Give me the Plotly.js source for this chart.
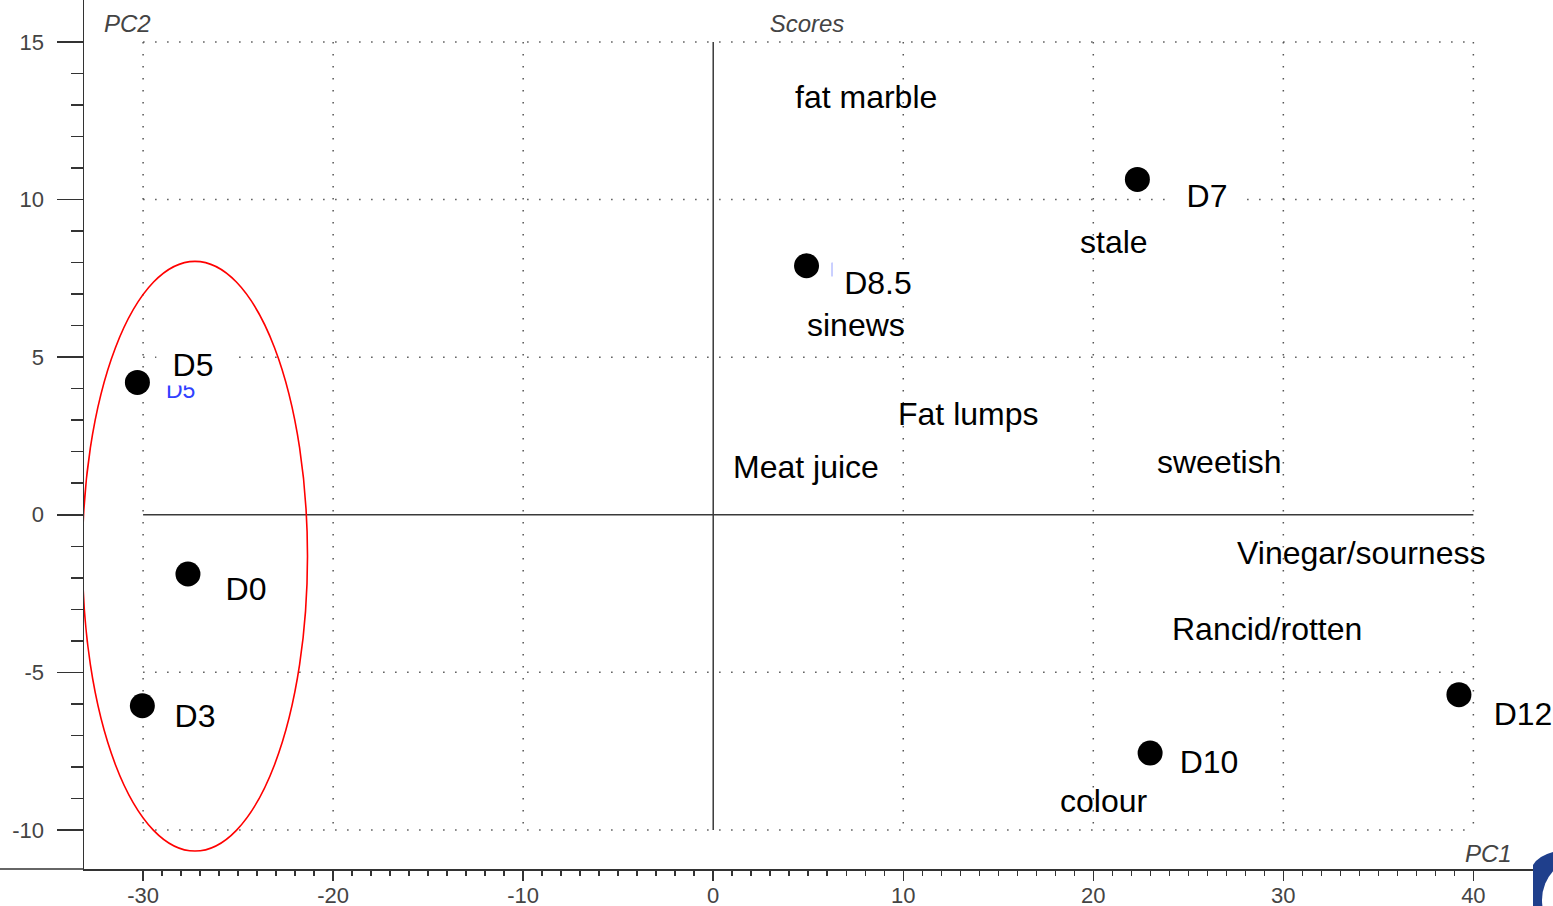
<!DOCTYPE html>
<html>
<head>
<meta charset="utf-8">
<script src="https://cdn.plot.ly/plotly-3.0.1.min.js"></script>
<style>html,body{margin:0;padding:0;background:#fff;}#chart{width:1553px;height:906px;}</style>
</head>
<body>
<div id="chart"></div>
<script>
// Score points (PC1, PC2)
var sampleNames = ['D5', 'D0', 'D3', 'D8.5', 'D7', 'D10', 'D12'];
var pc1Scores   = [-30.30, -27.64, -30.04, 4.91, 22.32, 22.99, 39.24];
var pc2Scores   = [4.20, -1.88, -6.06, 7.90, 10.64, -7.56, -5.71];

// Attribute labels placed on the score plot
var attrNames = ['fat marble', 'stale', 'sinews', 'Fat lumps', 'Meat juice', 'sweetish', 'Vinegar/sourness', 'Rancid/rotten', 'colour'];
var attrPC1   = [8.05, 21.10, 7.52, 13.41, 4.89, 26.62, 34.09, 29.14, 20.57];
var attrPC2   = [13.27, 8.67, 6.03, 3.21, 1.52, 1.68, -1.21, -3.62, -9.08];

// Tick labels
var xTickVals = [-30, -20, -10, 0, 10, 20, 30, 40];
var yTickVals = [-10, -5, 0, 5, 10, 15];

// Ellipse around the early group (PC1/PC2 extents)
var groupEllipse = {x0: -33.19, x1: -21.35, y0: -10.67, y1: 8.04};

// ---- styling / layout ----
var FONT = 'Liberation Sans, Arial, sans-serif';
var labelShift = [[56, 17], [58, -15], [53, -10], [71, -17], [70, -17], [59, -9], [64, -19]];
var labelWidth = [68, 68, 68, 86, 74, 82, 82];

var xmin = xTickVals[0], xmax = xTickVals[xTickVals.length - 1];
var ymin = yTickVals[0], ymax = yTickVals[yTickVals.length - 1];

var shapes = [];
xTickVals.forEach(function (v) {
  if (v === 0) return;
  shapes.push({type: 'line', xref: 'x', yref: 'y', x0: v, x1: v, y0: ymax, y1: ymin, layer: 'below',
    line: {color: '#555', width: 1.5, dash: '1.5px,10.5px'}});
});
yTickVals.forEach(function (v) {
  if (v === 0) return;
  shapes.push({type: 'line', xref: 'x', yref: 'y', x0: xmin, x1: xmax, y0: v, y1: v, layer: 'below',
    line: {color: '#555', width: 1.5, dash: '1.5px,10.5px'}});
});
// zero lines
shapes.push({type: 'line', xref: 'x', yref: 'y', x0: xmin, x1: xmax, y0: 0, y1: 0, layer: 'below', line: {color: '#3a3a3a', width: 1.5}});
shapes.push({type: 'line', xref: 'x', yref: 'y', x0: 0, x1: 0, y0: ymin, y1: ymax, layer: 'below', line: {color: '#3a3a3a', width: 1.5}});
// ellipse
shapes.push({type: 'circle', xref: 'x', yref: 'y', x0: groupEllipse.x0, x1: groupEllipse.x1, y0: groupEllipse.y0, y1: groupEllipse.y1,
  layer: 'above', line: {color: '#ff0000', width: 1.6}});
// stray blue cursor mark next to D8.5
shapes.push({type: 'line', xref: 'x', yref: 'y', x0: 6.26, x1: 6.26, y0: 8.0, y1: 7.56, layer: 'above', line: {color: '#6070ff', width: 1}});
// x-axis line extension to the left edge
shapes.push({type: 'line', xref: 'paper', yref: 'paper', x0: -84 / 1469, x1: 0, y0: 0, y1: 0, line: {color: '#333', width: 1.5}});
// partial logo in the bottom-right corner
shapes.push({type: 'path', xref: 'paper', yref: 'paper', xsizemode: 'pixel', ysizemode: 'pixel', xanchor: 1, yanchor: 0,
  path: 'M 0 17 Q -15 13 -20 4 L -20 -45 L 10 -45 L 10 17 Z', fillcolor: '#1f3f8c', line: {width: 0}});
shapes.push({type: 'circle', xref: 'paper', yref: 'paper', xsizemode: 'pixel', ysizemode: 'pixel', xanchor: 1, yanchor: 0,
  x0: -11, x1: 75, y0: -74, y1: 12, fillcolor: '#ffffff', line: {width: 0}});

var annotations = [];
// hidden blue label partly covered
annotations.push({x: -28.04, y: 3.97, xref: 'x', yref: 'y', text: 'D5', showarrow: false,
  font: {family: FONT, size: 23, color: '#3040ff'}});
sampleNames.forEach(function (n, i) {
  annotations.push({x: pc1Scores[i], y: pc2Scores[i], xref: 'x', yref: 'y', text: n, showarrow: false,
    xshift: labelShift[i][0], yshift: labelShift[i][1], width: labelWidth[i], bgcolor: '#ffffff', borderpad: 2,
    font: {family: FONT, size: 32, color: '#000'}});
});
attrNames.forEach(function (n, i) {
  annotations.push({x: attrPC1[i], y: attrPC2[i], xref: 'x', yref: 'y', text: n, showarrow: false,
    font: {family: FONT, size: 32, color: '#000'}});
});
annotations.push({x: -30.82, y: 15.6, xref: 'x', yref: 'y', text: '<i>PC2</i>', showarrow: false,
  font: {family: FONT, size: 24, color: '#444'}});
annotations.push({x: 40.81, y: -10.74, xref: 'x', yref: 'y', text: '<i>PC1</i>', showarrow: false,
  font: {family: FONT, size: 24, color: '#444'}});

var xMinor = [], yMinor = [];
for (var a = xmin; a <= xmax; a++) xMinor.push(a);
for (var b = ymin; b <= ymax; b++) yMinor.push(b);

var trace = {
  type: 'scatter', mode: 'markers', x: pc1Scores, y: pc2Scores, text: sampleNames,
  marker: {color: '#000', size: 25, line: {width: 0}}, hoverinfo: 'text', cliponaxis: false
};

var layout = {
  width: 1553, height: 906,
  margin: {l: 84, r: 0, t: 0, b: 37, pad: 0},
  paper_bgcolor: '#fff', plot_bgcolor: '#fff',
  showlegend: false,
  title: {text: '<i>Scores</i>', font: {family: FONT, size: 24, color: '#444'},
    x: 807 / 1553, xanchor: 'center', y: 1 - 24 / 906, yanchor: 'middle', xref: 'container', yref: 'container'},
  xaxis: {
    range: [-33.11, 44.19], showgrid: false, zeroline: false,
    showline: true, linecolor: '#333', linewidth: 1.5,
    tickmode: 'array', tickvals: xTickVals, ticktext: xTickVals.map(String),
    ticks: 'outside', ticklen: 10, tickwidth: 1.5, tickcolor: '#333',
    ticklabelstandoff: -4,
    tickfont: {family: FONT, size: 22, color: '#444'},
    minor: {tickmode: 'array', tickvals: xMinor, ticks: 'outside', ticklen: 5, tickwidth: 1.5, tickcolor: '#333', showgrid: false}
  },
  yaxis: {
    range: [-11.24, 16.333], showgrid: false, zeroline: false,
    showline: true, linecolor: '#333', linewidth: 1.5,
    tickmode: 'array', tickvals: yTickVals, ticktext: yTickVals.map(String),
    ticks: 'outside', ticklen: 26, tickwidth: 1.5, tickcolor: '#333',
    ticklabelstandoff: 8,
    tickfont: {family: FONT, size: 22, color: '#444'},
    minor: {tickmode: 'array', tickvals: yMinor, ticks: 'outside', ticklen: 12, tickwidth: 1.5, tickcolor: '#333', showgrid: false}
  },
  shapes: shapes,
  annotations: annotations
};

Plotly.newPlot('chart', [trace], layout, {displayModeBar: false, staticPlot: true});
</script>
</body>
</html>
